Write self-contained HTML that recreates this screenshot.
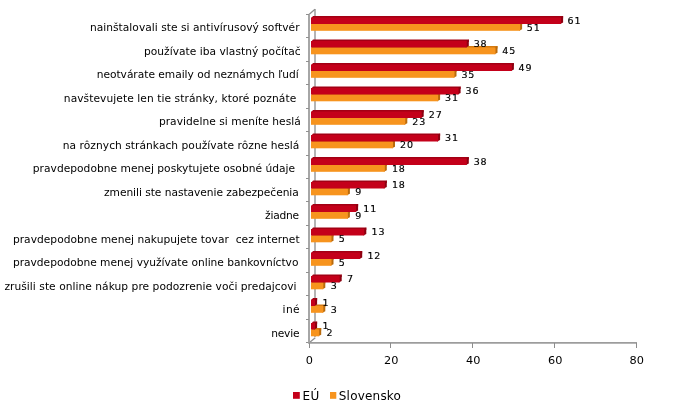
<!DOCTYPE html><html><head><meta charset="utf-8"><style>html,body{margin:0;padding:0;background:#fff;}body{width:689px;height:415px;overflow:hidden;}svg{display:block;will-change:transform;}text{font-family:"DejaVu Sans","Liberation Sans",sans-serif;fill:#000;}.v{stroke:#000;stroke-width:0.18px;}</style></head><body>
<svg width="689" height="415" viewBox="0 0 689 415">
<g stroke="#a6a6a6" stroke-width="1" fill="none" shape-rendering="crispEdges">
<rect x="314" y="9" width="2" height="328" fill="#b4b4b4" stroke="none"/>
</g>
<g stroke="#a6a6a6" stroke-width="1" fill="none">
<line x1="309" y1="14.5" x2="315" y2="9.2" stroke="#8e8e8e" stroke-width="1.25"/>
<line x1="309.5" y1="342.5" x2="315.3" y2="337.7" stroke="#8e8e8e" stroke-width="1.25"/>
</g>
<polygon points="313.0,22.5 522.1,22.5 522.1,25.0 311.0,25.0" fill="#d47a10"/><polygon points="519.1,24.0 522.1,22.5 522.1,29.3 519.1,30.8" fill="#b86a0c"/><rect x="311.0" y="24.0" width="209.10" height="6.80" fill="#f7941e"/>
<polygon points="313.0,16.0 563.1,16.0 563.1,18.5 311.0,18.5" fill="#a30014"/><polygon points="560.1,17.5 563.1,16.0 563.1,22.5 560.1,24.0" fill="#8c0010"/><rect x="311.0" y="17.5" width="250.10" height="6.50" fill="#c4001a"/>
<polygon points="313.0,46.0 497.5,46.0 497.5,48.5 311.0,48.5" fill="#d47a10"/><polygon points="494.5,47.5 497.5,46.0 497.5,52.8 494.5,54.3" fill="#b86a0c"/><rect x="311.0" y="47.5" width="184.50" height="6.80" fill="#f7941e"/>
<polygon points="313.0,39.5 468.8,39.5 468.8,42.0 311.0,42.0" fill="#a30014"/><polygon points="465.8,41.0 468.8,39.5 468.8,46.0 465.8,47.5" fill="#8c0010"/><rect x="311.0" y="41.0" width="155.80" height="6.50" fill="#c4001a"/>
<polygon points="313.0,69.5 456.5,69.5 456.5,72.0 311.0,72.0" fill="#d47a10"/><polygon points="453.5,71.0 456.5,69.5 456.5,76.3 453.5,77.8" fill="#b86a0c"/><rect x="311.0" y="71.0" width="143.50" height="6.80" fill="#f7941e"/>
<polygon points="313.0,63.0 513.9,63.0 513.9,65.5 311.0,65.5" fill="#a30014"/><polygon points="510.9,64.5 513.9,63.0 513.9,69.5 510.9,71.0" fill="#8c0010"/><rect x="311.0" y="64.5" width="200.90" height="6.50" fill="#c4001a"/>
<polygon points="313.0,93.0 440.1,93.0 440.1,95.5 311.0,95.5" fill="#d47a10"/><polygon points="437.1,94.5 440.1,93.0 440.1,99.8 437.1,101.3" fill="#b86a0c"/><rect x="311.0" y="94.5" width="127.10" height="6.80" fill="#f7941e"/>
<polygon points="313.0,86.5 460.6,86.5 460.6,89.0 311.0,89.0" fill="#a30014"/><polygon points="457.6,88.0 460.6,86.5 460.6,93.0 457.6,94.5" fill="#8c0010"/><rect x="311.0" y="88.0" width="147.60" height="6.50" fill="#c4001a"/>
<polygon points="313.0,116.5 407.3,116.5 407.3,119.0 311.0,119.0" fill="#d47a10"/><polygon points="404.3,118.0 407.3,116.5 407.3,123.3 404.3,124.8" fill="#b86a0c"/><rect x="311.0" y="118.0" width="94.30" height="6.80" fill="#f7941e"/>
<polygon points="313.0,110.0 423.7,110.0 423.7,112.5 311.0,112.5" fill="#a30014"/><polygon points="420.7,111.5 423.7,110.0 423.7,116.5 420.7,118.0" fill="#8c0010"/><rect x="311.0" y="111.5" width="110.70" height="6.50" fill="#c4001a"/>
<polygon points="313.0,140.0 395.0,140.0 395.0,142.5 311.0,142.5" fill="#d47a10"/><polygon points="392.0,141.5 395.0,140.0 395.0,146.8 392.0,148.3" fill="#b86a0c"/><rect x="311.0" y="141.5" width="82.00" height="6.80" fill="#f7941e"/>
<polygon points="313.0,133.5 440.1,133.5 440.1,136.0 311.0,136.0" fill="#a30014"/><polygon points="437.1,135.0 440.1,133.5 440.1,140.0 437.1,141.5" fill="#8c0010"/><rect x="311.0" y="135.0" width="127.10" height="6.50" fill="#c4001a"/>
<polygon points="313.0,163.5 386.8,163.5 386.8,166.0 311.0,166.0" fill="#d47a10"/><polygon points="383.8,165.0 386.8,163.5 386.8,170.3 383.8,171.8" fill="#b86a0c"/><rect x="311.0" y="165.0" width="73.80" height="6.80" fill="#f7941e"/>
<polygon points="313.0,157.0 468.8,157.0 468.8,159.5 311.0,159.5" fill="#a30014"/><polygon points="465.8,158.5 468.8,157.0 468.8,163.5 465.8,165.0" fill="#8c0010"/><rect x="311.0" y="158.5" width="155.80" height="6.50" fill="#c4001a"/>
<polygon points="313.0,187.0 349.9,187.0 349.9,189.5 311.0,189.5" fill="#d47a10"/><polygon points="346.9,188.5 349.9,187.0 349.9,193.8 346.9,195.3" fill="#b86a0c"/><rect x="311.0" y="188.5" width="36.90" height="6.80" fill="#f7941e"/>
<polygon points="313.0,180.5 386.8,180.5 386.8,183.0 311.0,183.0" fill="#a30014"/><polygon points="383.8,182.0 386.8,180.5 386.8,187.0 383.8,188.5" fill="#8c0010"/><rect x="311.0" y="182.0" width="73.80" height="6.50" fill="#c4001a"/>
<polygon points="313.0,210.5 349.9,210.5 349.9,213.0 311.0,213.0" fill="#d47a10"/><polygon points="346.9,212.0 349.9,210.5 349.9,217.3 346.9,218.8" fill="#b86a0c"/><rect x="311.0" y="212.0" width="36.90" height="6.80" fill="#f7941e"/>
<polygon points="313.0,204.0 358.1,204.0 358.1,206.5 311.0,206.5" fill="#a30014"/><polygon points="355.1,205.5 358.1,204.0 358.1,210.5 355.1,212.0" fill="#8c0010"/><rect x="311.0" y="205.5" width="45.10" height="6.50" fill="#c4001a"/>
<polygon points="313.0,234.0 333.5,234.0 333.5,236.5 311.0,236.5" fill="#d47a10"/><polygon points="330.5,235.5 333.5,234.0 333.5,240.8 330.5,242.3" fill="#b86a0c"/><rect x="311.0" y="235.5" width="20.50" height="6.80" fill="#f7941e"/>
<polygon points="313.0,227.5 366.3,227.5 366.3,230.0 311.0,230.0" fill="#a30014"/><polygon points="363.3,229.0 366.3,227.5 366.3,234.0 363.3,235.5" fill="#8c0010"/><rect x="311.0" y="229.0" width="53.30" height="6.50" fill="#c4001a"/>
<polygon points="313.0,257.5 333.5,257.5 333.5,260.0 311.0,260.0" fill="#d47a10"/><polygon points="330.5,259.0 333.5,257.5 333.5,264.3 330.5,265.8" fill="#b86a0c"/><rect x="311.0" y="259.0" width="20.50" height="6.80" fill="#f7941e"/>
<polygon points="313.0,251.0 362.2,251.0 362.2,253.5 311.0,253.5" fill="#a30014"/><polygon points="359.2,252.5 362.2,251.0 362.2,257.5 359.2,259.0" fill="#8c0010"/><rect x="311.0" y="252.5" width="49.20" height="6.50" fill="#c4001a"/>
<polygon points="313.0,281.0 325.3,281.0 325.3,283.5 311.0,283.5" fill="#d47a10"/><polygon points="322.3,282.5 325.3,281.0 325.3,287.8 322.3,289.3" fill="#b86a0c"/><rect x="311.0" y="282.5" width="12.30" height="6.80" fill="#f7941e"/>
<polygon points="313.0,274.5 341.7,274.5 341.7,277.0 311.0,277.0" fill="#a30014"/><polygon points="338.7,276.0 341.7,274.5 341.7,281.0 338.7,282.5" fill="#8c0010"/><rect x="311.0" y="276.0" width="28.70" height="6.50" fill="#c4001a"/>
<polygon points="313.0,304.5 325.3,304.5 325.3,307.0 311.0,307.0" fill="#d47a10"/><polygon points="322.3,306.0 325.3,304.5 325.3,311.3 322.3,312.8" fill="#b86a0c"/><rect x="311.0" y="306.0" width="12.30" height="6.80" fill="#f7941e"/>
<polygon points="313.0,298.0 317.1,298.0 317.1,300.5 311.0,300.5" fill="#a30014"/><polygon points="314.1,299.5 317.1,298.0 317.1,304.5 314.1,306.0" fill="#8c0010"/><rect x="311.0" y="299.5" width="4.10" height="6.50" fill="#c4001a"/>
<polygon points="313.0,328.0 321.2,328.0 321.2,330.5 311.0,330.5" fill="#d47a10"/><polygon points="318.2,329.5 321.2,328.0 321.2,334.8 318.2,336.3" fill="#b86a0c"/><rect x="311.0" y="329.5" width="8.20" height="6.80" fill="#f7941e"/>
<polygon points="313.0,321.5 317.1,321.5 317.1,324.0 311.0,324.0" fill="#a30014"/><polygon points="314.1,323.0 317.1,321.5 317.1,328.0 314.1,329.5" fill="#8c0010"/><rect x="311.0" y="323.0" width="4.10" height="6.50" fill="#c4001a"/>
<g stroke="#a6a6a6" stroke-width="1" fill="none" shape-rendering="crispEdges">
<rect x="308" y="14" width="2" height="330" fill="#a6a6a6" stroke="none"/>
<line x1="306" y1="14.5" x2="309" y2="14.5" stroke="#909090"/>
<line x1="306" y1="37.5" x2="309" y2="37.5" stroke="#909090"/>
<line x1="306" y1="61.5" x2="309" y2="61.5" stroke="#909090"/>
<line x1="306" y1="84.5" x2="309" y2="84.5" stroke="#909090"/>
<line x1="306" y1="108.5" x2="309" y2="108.5" stroke="#909090"/>
<line x1="306" y1="131.5" x2="309" y2="131.5" stroke="#909090"/>
<line x1="306" y1="155.5" x2="309" y2="155.5" stroke="#909090"/>
<line x1="306" y1="178.5" x2="309" y2="178.5" stroke="#909090"/>
<line x1="306" y1="201.5" x2="309" y2="201.5" stroke="#909090"/>
<line x1="306" y1="225.5" x2="309" y2="225.5" stroke="#909090"/>
<line x1="306" y1="248.5" x2="309" y2="248.5" stroke="#909090"/>
<line x1="306" y1="272.5" x2="309" y2="272.5" stroke="#909090"/>
<line x1="306" y1="295.5" x2="309" y2="295.5" stroke="#909090"/>
<line x1="306" y1="319.5" x2="309" y2="319.5" stroke="#909090"/>
<line x1="306" y1="342.5" x2="309" y2="342.5" stroke="#909090"/>
<rect x="308" y="342" width="329" height="1" fill="#9c9c9c" stroke="none"/>
<rect x="308" y="343" width="329" height="1" fill="#b6b6b6" stroke="none"/>
<line x1="309.5" y1="343" x2="309.5" y2="348" stroke="#8c8c8c"/>
<line x1="390.5" y1="343" x2="390.5" y2="348" stroke="#8c8c8c"/>
<line x1="472.5" y1="343" x2="472.5" y2="348" stroke="#8c8c8c"/>
<line x1="554.5" y1="343" x2="554.5" y2="348" stroke="#8c8c8c"/>
<line x1="636.5" y1="343" x2="636.5" y2="348" stroke="#8c8c8c"/>
</g>
<text x="89.90" y="31.00" font-size="10.67" textLength="209.62" lengthAdjust="spacing" xml:space="preserve">nainštalovali ste si antivírusový softvér</text>
<text x="567.59" y="23.95" font-size="9.5" letter-spacing="0.9" class="v">61</text>
<text x="526.74" y="30.50" font-size="9.5" letter-spacing="0.9" class="v">51</text>
<text x="143.90" y="54.50" font-size="10.67" textLength="156.74" lengthAdjust="spacing" xml:space="preserve">používate iba vlastný počítač</text>
<text x="473.63" y="47.45" font-size="9.5" letter-spacing="0.9" class="v">38</text>
<text x="502.22" y="54.00" font-size="9.5" letter-spacing="0.9" class="v">45</text>
<text x="96.70" y="78.00" font-size="10.67" textLength="201.98" lengthAdjust="spacing" xml:space="preserve">neotvárate emaily od neznámych ľudí</text>
<text x="518.56" y="70.95" font-size="9.5" letter-spacing="0.9" class="v">49</text>
<text x="461.38" y="77.50" font-size="9.5" letter-spacing="0.9" class="v">35</text>
<text x="63.80" y="101.50" font-size="10.67" textLength="232.44" lengthAdjust="spacing" xml:space="preserve">navštevujete len tie stránky, ktoré poznáte</text>
<text x="465.46" y="94.45" font-size="9.5" letter-spacing="0.9" class="v">36</text>
<text x="445.03" y="101.00" font-size="9.5" letter-spacing="0.9" class="v">31</text>
<text x="158.90" y="125.00" font-size="10.67" textLength="141.85" lengthAdjust="spacing" xml:space="preserve">pravidelne si meníte heslá</text>
<text x="428.69" y="117.95" font-size="9.5" letter-spacing="0.9" class="v">27</text>
<text x="412.35" y="124.50" font-size="9.5" letter-spacing="0.9" class="v">23</text>
<text x="62.80" y="148.50" font-size="10.67" textLength="236.47" lengthAdjust="spacing" xml:space="preserve">na rôznych stránkach používate rôzne heslá</text>
<text x="445.03" y="141.45" font-size="9.5" letter-spacing="0.9" class="v">31</text>
<text x="400.10" y="148.00" font-size="9.5" letter-spacing="0.9" class="v">20</text>
<text x="32.80" y="172.00" font-size="10.67" textLength="262.35" lengthAdjust="spacing" xml:space="preserve">pravdepodobne menej poskytujete osobné údaje</text>
<text x="473.63" y="164.95" font-size="9.5" letter-spacing="0.9" class="v">38</text>
<text x="391.93" y="171.50" font-size="9.5" letter-spacing="0.9" class="v">18</text>
<text x="104.00" y="195.50" font-size="10.67" textLength="194.81" lengthAdjust="spacing" xml:space="preserve">zmenili ste nastavenie zabezpečenia</text>
<text x="391.93" y="188.45" font-size="9.5" letter-spacing="0.9" class="v">18</text>
<text x="355.16" y="195.00" font-size="9.5" letter-spacing="0.9" class="v">9</text>
<text x="265.10" y="219.00" font-size="10.67" textLength="34.07" lengthAdjust="spacing" xml:space="preserve">žiadne</text>
<text x="363.33" y="211.95" font-size="9.5" letter-spacing="0.9" class="v">11</text>
<text x="355.16" y="218.50" font-size="9.5" letter-spacing="0.9" class="v">9</text>
<text x="12.90" y="242.50" font-size="10.67" textLength="286.69" lengthAdjust="spacing" xml:space="preserve">pravdepodobne menej nakupujete tovar  cez internet</text>
<text x="371.50" y="235.45" font-size="9.5" letter-spacing="0.9" class="v">13</text>
<text x="338.82" y="242.00" font-size="9.5" letter-spacing="0.9" class="v">5</text>
<text x="12.90" y="266.00" font-size="10.67" textLength="285.55" lengthAdjust="spacing" xml:space="preserve">pravdepodobne menej využívate online bankovníctvo</text>
<text x="367.42" y="258.95" font-size="9.5" letter-spacing="0.9" class="v">12</text>
<text x="338.82" y="265.50" font-size="9.5" letter-spacing="0.9" class="v">5</text>
<text x="4.40" y="289.50" font-size="10.67" textLength="292.14" lengthAdjust="spacing" xml:space="preserve">zrušili ste online nákup pre podozrenie voči predajcovi</text>
<text x="347.00" y="282.45" font-size="9.5" letter-spacing="0.9" class="v">7</text>
<text x="330.65" y="289.00" font-size="9.5" letter-spacing="0.9" class="v">3</text>
<text x="282.60" y="313.00" font-size="10.67" textLength="17.08" lengthAdjust="spacing" xml:space="preserve">iné</text>
<text x="322.48" y="305.95" font-size="9.5" letter-spacing="0.9" class="v">1</text>
<text x="330.65" y="312.50" font-size="9.5" letter-spacing="0.9" class="v">3</text>
<text x="271.20" y="336.50" font-size="10.67" textLength="28.34" lengthAdjust="spacing" xml:space="preserve">nevie</text>
<text x="322.48" y="329.45" font-size="9.5" letter-spacing="0.9" class="v">1</text>
<text x="326.57" y="336.00" font-size="9.5" letter-spacing="0.9" class="v">2</text>
<text x="309.40" y="364" text-anchor="middle" font-size="11.3">0</text>
<text x="391.30" y="364" text-anchor="middle" font-size="11.3">20</text>
<text x="473.20" y="364" text-anchor="middle" font-size="11.3">40</text>
<text x="555.20" y="364" text-anchor="middle" font-size="11.3">60</text>
<text x="636.80" y="364" text-anchor="middle" font-size="11.3">80</text>
<rect x="293" y="392" width="6.8" height="6.8" fill="#c4001a"/>
<text x="302.6" y="400.2" font-size="12" letter-spacing="0.2">EÚ</text>
<rect x="330" y="392" width="6.3" height="6.8" fill="#f7941e"/>
<text x="338.8" y="400.2" font-size="12" letter-spacing="0.2">Slovensko</text>
</svg></body></html>
